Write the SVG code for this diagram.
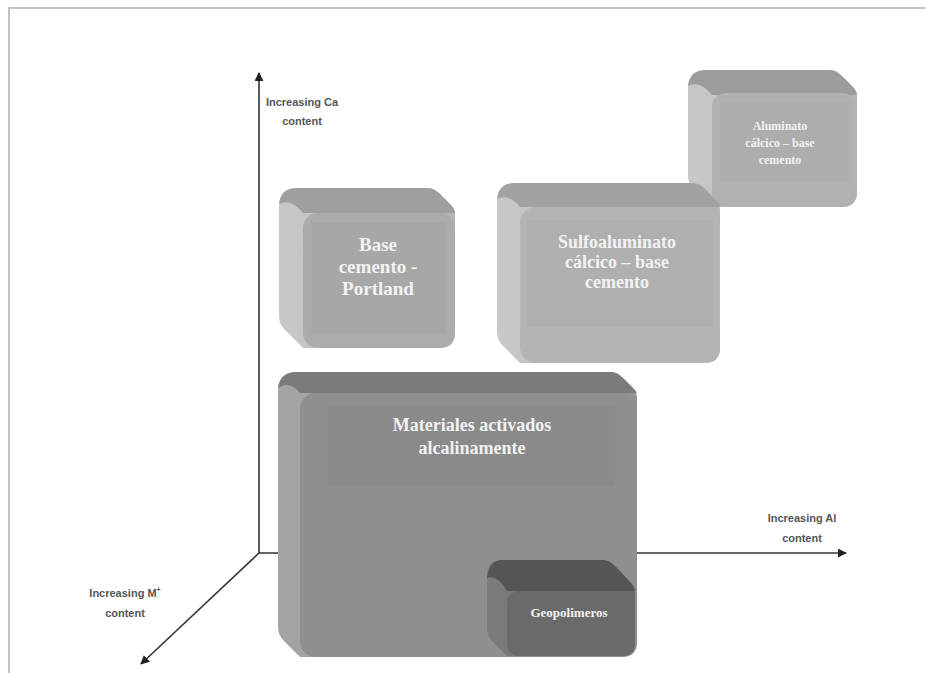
<svg xmlns="http://www.w3.org/2000/svg" width="925" height="673" viewBox="0 0 925 673">
<defs>
<marker id="ah" viewBox="0 0 10 10" refX="9" refY="5" markerWidth="9" markerHeight="9" markerUnits="userSpaceOnUse" orient="auto">
<path d="M0,0 L10,5 L0,10 z" fill="#222"/>
</marker>
<linearGradient id="gl1" x1="0" y1="0" x2="1" y2="0"><stop offset="0" stop-color="#c8c8c8"/><stop offset="1" stop-color="#b4b4b4"/></linearGradient>
<linearGradient id="gl2" x1="0" y1="0" x2="1" y2="0"><stop offset="0" stop-color="#a4a4a4"/><stop offset="1" stop-color="#939393"/></linearGradient>
<linearGradient id="gl3" x1="0" y1="0" x2="1" y2="0"><stop offset="0" stop-color="#7c7c7c"/><stop offset="1" stop-color="#6a6a6a"/></linearGradient>
</defs>
<style>
.lbl{font-family:"Liberation Sans","Open Sans",sans-serif;font-weight:bold;font-size:11px;fill:#555;text-anchor:middle}
.bt{font-family:"Liberation Serif","DejaVu Serif",serif;font-weight:bold;fill:#f2f2f2;text-anchor:middle}
.ax{stroke:#333;stroke-width:1.6;fill:none}
</style>
<rect width="925" height="673" fill="#fff"/>
<path d="M9,673 V8 H925" fill="none" stroke="#c4c4c4" stroke-width="2"/>

<g id="connectors">
<line class="ax" x1="259" y1="553" x2="259" y2="73" marker-end="url(#ah)"/>
<line class="ax" x1="259" y1="553" x2="846" y2="553" marker-end="url(#ah)"/>
<line class="ax" x1="259" y1="553" x2="141" y2="664" marker-end="url(#ah)"/>
</g>

<g id="lbl-ca"><text class="lbl" x="302" y="106">Increasing Ca</text><text class="lbl" x="302" y="125">content</text></g>
<g id="lbl-al"><text class="lbl" x="802" y="522">Increasing Al</text><text class="lbl" x="802" y="542">content</text></g>
<g id="lbl-m"><text class="lbl" x="125" y="597">Increasing M<tspan font-size="7" dy="-5">+</tspan></text><text class="lbl" x="125" y="617">content</text></g>

<g id="aluminato">
<path d="M706,70 H830 Q836,70 842,76 L852,86 Q857,91 857,98 V192 Q857,207 842,207 H712 L694,190 Q688,184 688,176 V88 Q688,70 706,70 Z" fill="url(#gl1)"/>
<path d="M706,70 H830 Q836,70 842,76 L852,86 Q857,91 857,95 H712 Q700,80 688,86 Q690,70 706,70 Z" fill="#9c9c9c"/>
<rect x="712" y="93" width="145" height="114" rx="14" fill="#b1b1b1"/>
<rect x="720" y="102" width="129" height="80" fill="#adadad"/>
<text class="bt" font-size="12" x="780" y="130">Aluminato</text>
<text class="bt" font-size="12" x="780" y="147">cálcico – base</text>
<text class="bt" font-size="12" x="780" y="164">cemento</text>
</g>

<g id="portland">
<path d="M297,188 H428 Q434,188 440,194 L450,204 Q455,209 455,216 V333 Q455,348 440,348 H303 L285,330 Q279,324 279,316 V206 Q279,188 297,188 Z" fill="url(#gl1)"/>
<path d="M297,188 H428 Q434,188 440,194 L450,204 Q455,209 455,213 H303 Q291,198 279,204 Q281,188 297,188 Z" fill="#9f9f9f"/>
<rect x="303" y="213" width="152" height="135" rx="15" fill="#acacac"/>
<rect x="311" y="222" width="135" height="111" fill="#a7a7a7"/>
<text class="bt" font-size="19" x="378" y="251">Base</text>
<text class="bt" font-size="19" x="378" y="273">cemento -</text>
<text class="bt" font-size="19" x="378" y="295">Portland</text>
</g>

<g id="sulfo">
<path d="M515,183 H693 Q699,183 705,189 L715,199 Q720,204 720,211 V348 Q720,363 705,363 H520 L503,346 Q497,340 497,332 V201 Q497,183 515,183 Z" fill="url(#gl1)"/>
<path d="M515,183 H693 Q699,183 705,189 L715,199 Q720,204 720,207 H520 Q509,193 497,199 Q499,183 515,183 Z" fill="#a2a2a2"/>
<rect x="520" y="207" width="200" height="156" rx="16" fill="#b4b4b4"/>
<rect x="527" y="220" width="186" height="107" fill="#afafaf"/>
<text class="bt" font-size="18" x="617" y="248">Sulfoaluminato</text>
<text class="bt" font-size="18" x="617" y="268">cálcico – base</text>
<text class="bt" font-size="18" x="617" y="288">cemento</text>
</g>

<g id="materiales">
<path d="M297,372 H611 Q617,372 623,378 L632,387 Q637,392 637,398 V642 Q637,657 622,657 H300 L284,641 Q278,635 278,627 V391 Q278,372 297,372 Z" fill="url(#gl2)"/>
<path d="M297,372 H611 Q617,372 623,378 L632,387 Q637,392 637,393 H300 Q290,380 278,388 Q280,372 297,372 Z" fill="#7b7b7b"/>
<rect x="300" y="393" width="337" height="264" rx="16" fill="#8f8f8f"/>
<rect x="328" y="405" width="287" height="80" fill="#8a8a8a"/>
<text class="bt" font-size="18" x="472" y="431">Materiales activados</text>
<text class="bt" font-size="18" x="472" y="454">alcalinamente</text>
</g>

<g id="geopolimeros">
<path d="M502,560 H603 Q609,560 615,566 L630,582 Q635,587 635,593 V643 Q635,656 622,656 H507 L492,641 Q487,636 487,628 V575 Q487,560 502,560 Z" fill="url(#gl3)"/>
<path d="M502,560 H603 Q609,560 615,566 L630,582 Q635,587 635,591 H507 Q497,574 487,578 Q489,560 502,560 Z" fill="#555555"/>
<rect x="507" y="591" width="128" height="65" rx="12" fill="#6a6a6a"/>
<text class="bt" font-size="13" x="569" y="617">Geopolimeros</text>
</g>
</svg>
